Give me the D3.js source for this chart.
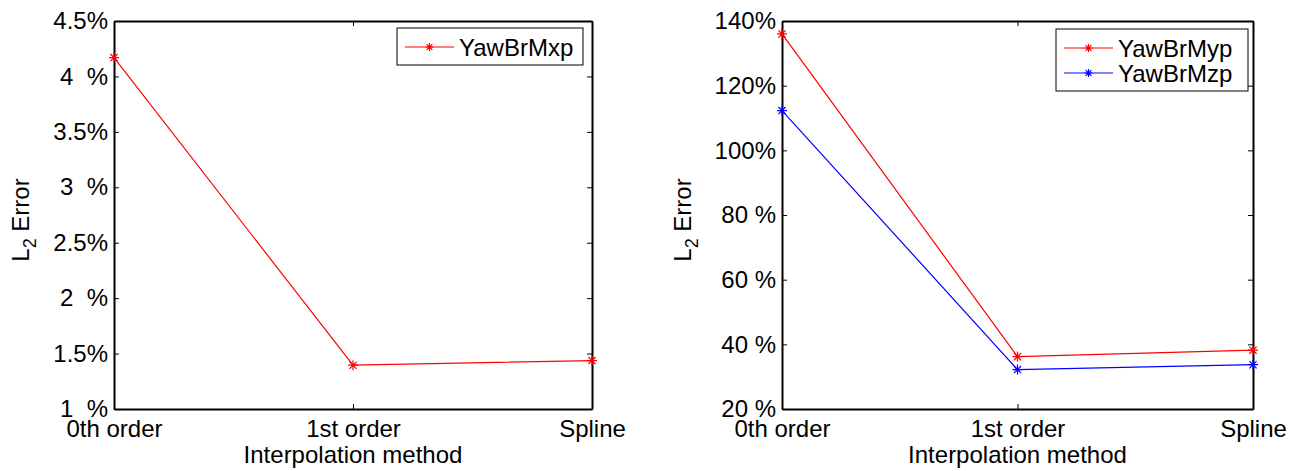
<!DOCTYPE html>
<html>
<head>
<meta charset="utf-8">
<script src="https://cdn.jsdelivr.net/npm/d3@7"></script>
<style>
  body { margin: 0; background: #fff; }
  text { font-family: "Liberation Sans", Arial, sans-serif; }
</style>
</head>
<body>
<div id="chart"></div>
<script>
// donnees
const methods = ["0th order", "1st order", "Spline"];
const yawBrMxp = [4.17, 1.395, 1.437];
const yawBrMyp = [136, 36.2, 38.2];
const yawBrMzp = [112.3, 32.2, 33.7];

const leftTickValues = [1, 1.5, 2, 2.5, 3, 3.5, 4, 4.5];
const leftTickLabels = ["1  %", "1.5%", "2  %", "2.5%", "3  %", "3.5%", "4  %", "4.5%"];
const rightTickValues = [20, 40, 60, 80, 100, 120, 140];
const rightTickLabels = ["20 %", "40 %", "60 %", "80 %", "100%", "120%", "140%"];

const W = 1296, H = 471;
const fontSize = 24;

const svg = d3.select("#chart").append("svg")
  .attr("width", W).attr("height", H);

// un panneau = un axe matlab avec box on
function panel(opts) {
  const w = opts.x1 - opts.x0, h = opts.y1 - opts.y0;
  const g = svg.append("g").attr("transform", "translate(" + opts.x0 + "," + opts.y0 + ")");

  const x = d3.scalePoint().domain(methods).range([0, w]);
  const y = d3.scaleLinear().domain(opts.domain).range([h, 0]);

  // axes gauche / droite / haut / bas, ticks vers l'interieur
  const yl = g.append("g").call(d3.axisLeft(y).tickValues(opts.ticks)
    .tickFormat((d, i) => opts.labels[i]).tickSizeInner(-5).tickSizeOuter(0).tickPadding(6));
  g.append("g").attr("transform", "translate(" + w + ",0)")
    .call(d3.axisRight(y).tickValues(opts.ticks).tickFormat("").tickSizeInner(-5).tickSizeOuter(0));
  const xb = g.append("g").attr("transform", "translate(0," + h + ")")
    .call(d3.axisBottom(x).tickSizeInner(-5).tickSizeOuter(0).tickPadding(11));
  g.append("g").call(d3.axisTop(x).tickFormat("").tickSizeInner(-5).tickSizeOuter(0));

  g.selectAll(".domain").attr("stroke", "#000").attr("stroke-width", 2);
  g.selectAll(".tick line").attr("stroke", "#000");
  g.selectAll(".tick text").attr("fill", "#000").style("font-size", fontSize + "px")
    .style("font-family", "'Liberation Sans', Arial, sans-serif");
  yl.selectAll(".tick text").style("white-space", "pre");

  // titre axe x
  g.append("text").attr("x", w / 2).attr("y", h + 54)
    .attr("text-anchor", "middle").style("font-size", fontSize + "px")
    .text("Interpolation method");

  // titre axe y : L2 Error
  const yt = g.append("text")
    .attr("transform", "translate(" + opts.ylabX + "," + (h / 2 + 5) + ") rotate(-90)")
    .attr("text-anchor", "middle").style("font-size", fontSize + "px")
    .style("white-space", "pre");
  yt.append("tspan").text("L");
  yt.append("tspan").attr("dy", 7).style("font-size", "18px").text("2");
  yt.append("tspan").attr("dy", -7).text(" Error");

  const line = d3.line().x((d, i) => x(methods[i])).y(d => y(d));

  opts.series.forEach(function (s) {
    g.append("path").datum(s.values)
      .attr("d", line).attr("fill", "none")
      .attr("stroke", s.color).attr("stroke-width", 1.2);
    g.selectAll(null).data(s.values).enter()
      .append("path")
      .attr("transform", (d, i) => "translate(" + x(methods[i]) + "," + y(d) + ")")
      .attr("d", star(5))
      .attr("stroke", s.color).attr("stroke-width", 1.2).attr("fill", "none");
  });

  // legende
  const lg = g.append("g").attr("transform", "translate(" + (opts.legX - opts.x0) + "," + (opts.legY - opts.y0) + ")");
  lg.append("rect").attr("width", opts.legW).attr("height", 12 + 25 * opts.series.length)
    .attr("fill", "#fff").attr("stroke", "#000").attr("stroke-width", 1);
  opts.series.forEach(function (s, i) {
    const cy = 19 + 25 * i;
    lg.append("line").attr("x1", 8).attr("x2", 57).attr("y1", cy).attr("y2", cy)
      .attr("stroke", s.color).attr("stroke-width", 1.2);
    lg.append("path").attr("transform", "translate(32.5," + cy + ")").attr("d", star(4))
      .attr("stroke", s.color).attr("stroke-width", 1.2).attr("fill", "none");
    lg.append("text").attr("x", 62).attr("y", cy).attr("dy", "0.36em")
      .style("font-size", fontSize + "px").text(s.name);
  });
}

// marqueur '*' de matlab
function star(r) {
  const d = r * 0.72;
  return "M" + (-r) + ",0L" + r + ",0M0," + (-r) + "L0," + r +
    "M" + (-d) + "," + (-d) + "L" + d + "," + d + "M" + (-d) + "," + d + "L" + d + "," + (-d);
}

panel({
  x0: 114, x1: 592, y0: 21, y1: 409,
  domain: [1, 4.5], ticks: leftTickValues, labels: leftTickLabels,
  ylabX: -85,
  legX: 397, legY: 28, legW: 186,
  series: [{ name: "YawBrMxp", values: yawBrMxp, color: "#ff0000" }]
});

panel({
  x0: 782, x1: 1253, y0: 21, y1: 409,
  domain: [20, 140], ticks: rightTickValues, labels: rightTickLabels,
  ylabX: -91,
  legX: 1056, legY: 29, legW: 192,
  series: [
    { name: "YawBrMyp", values: yawBrMyp, color: "#ff0000" },
    { name: "YawBrMzp", values: yawBrMzp, color: "#0000ff" }
  ]
});
</script>
</body>
</html>
